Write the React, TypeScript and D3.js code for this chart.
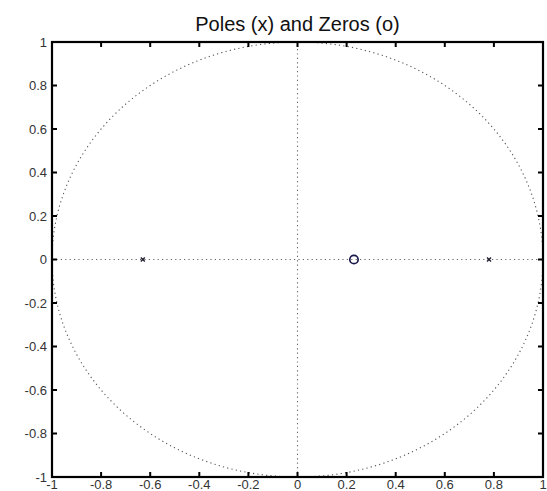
import React from "react";
import * as d3 from "d3";

const poles: number[] = [-0.63, 0.78];
const zeros: number[] = [0.23];
const xTicks: number[] = [-1, -0.8, -0.6, -0.4, -0.2, 0, 0.2, 0.4, 0.6, 0.8, 1];
const yTicks: number[] = [-1, -0.8, -0.6, -0.4, -0.2, 0, 0.2, 0.4, 0.6, 0.8, 1];
const title = "Poles (x) and Zeros (o)";

const W = 547;
const H = 491;
const left = 52;
const right = 543;
const top = 42;
const bottom = 477;

export default function App() {
  const x = d3.scaleLinear().domain([-1, 1]).range([left, right]);
  const y = d3.scaleLinear().domain([-1, 1]).range([bottom, top]);

  const angles = d3.range(0, 361, 1).map((a) => (a * Math.PI) / 180);
  const circle = d3
    .line<number>()
    .x((t) => x(Math.cos(t)))
    .y((t) => y(Math.sin(t)))(angles);

  const font = "Liberation Sans, Arial, sans-serif";
  const fmt = (v: number) => (v === 0 ? "0" : String(+v.toFixed(1)));

  return (
    <svg
      width={W}
      height={H}
      style={{ position: "absolute", left: 0, top: 0, background: "#fff" }}
    >
      <text
        x={(left + right) / 2}
        y={31}
        textAnchor="middle"
        fontFamily={font}
        fontSize={20}
        fill="#111"
      >
        {title}
      </text>

      {/* unit circle and the two axes through the origin */}
      <path d={circle ?? ""} fill="none" stroke="#555" strokeWidth={1.1} strokeDasharray="1.2 3.2" />
      <line x1={x(-1)} x2={x(1)} y1={y(0)} y2={y(0)} stroke="#666" strokeWidth={1.1} strokeDasharray="1.2 3.2" />
      <line x1={x(0)} x2={x(0)} y1={y(-1)} y2={y(1)} stroke="#666" strokeWidth={1.1} strokeDasharray="1.2 3.2" />

      {/* ticks and tick labels */}
      {xTicks.map((t) => (
        <g key={"xt" + t}>
          <line x1={x(t)} x2={x(t)} y1={bottom} y2={bottom - 5} stroke="#000" strokeWidth={2} />
          <line x1={x(t)} x2={x(t)} y1={top} y2={top + 5} stroke="#000" strokeWidth={2} />
          <text
            x={x(t)}
            y={489}
            textAnchor="middle"
            fontFamily={font}
            fontSize={13}
            fill="#333"
          >
            {fmt(t)}
          </text>
        </g>
      ))}
      {yTicks.map((t) => (
        <g key={"yt" + t}>
          <line x1={left} x2={left + 5} y1={y(t)} y2={y(t)} stroke="#000" strokeWidth={2} />
          <line x1={right} x2={right - 5} y1={y(t)} y2={y(t)} stroke="#000" strokeWidth={2} />
          <text
            x={left - 5}
            y={y(t) + 4.5}
            textAnchor="end"
            fontFamily={font}
            fontSize={13}
            fill="#333"
          >
            {fmt(t)}
          </text>
        </g>
      ))}

      <rect
        x={left}
        y={top}
        width={right - left}
        height={bottom - top}
        fill="none"
        stroke="#000"
        strokeWidth={2.2}
      />

      {/* poles */}
      {poles.map((p) => (
        <g key={"p" + p} stroke="#223" strokeWidth={1.4}>
          <line x1={x(p) - 2} x2={x(p) + 2} y1={y(0) - 2} y2={y(0) + 2} />
          <line x1={x(p) - 2} x2={x(p) + 2} y1={y(0) + 2} y2={y(0) - 2} />
        </g>
      ))}
      {/* zeros */}
      {zeros.map((z) => (
        <circle key={"z" + z} cx={x(z)} cy={y(0)} r={4.2} fill="none" stroke="#1a1a4a" strokeWidth={1.7} />
      ))}
    </svg>
  );
}
